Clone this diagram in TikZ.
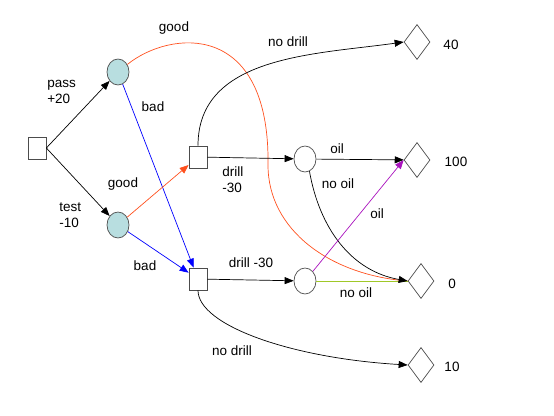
\documentclass[tikz,border=0pt]{standalone}
\usepackage{fontspec}
\setmainfont{Liberation Sans}
\usetikzlibrary{shapes.geometric,arrows.meta}
\definecolor{chancefill}{RGB}{184,222,224}
\definecolor{goodcol}{RGB}{255,80,30}
\definecolor{oilcol}{RGB}{170,20,190}
\definecolor{nooilcol}{RGB}{160,200,40}
\tikzstyle{decision}=[rectangle, draw=black!70, fill=white, minimum width=18pt, minimum height=22pt, inner sep=0pt]
\tikzstyle{chance}=[ellipse, draw=black!70, fill=white, minimum width=22pt, minimum height=26pt, inner sep=0pt]
\tikzstyle{payoff}=[diamond, draw=black!70, minimum width=26pt, minimum height=35pt, inner sep=0pt]
\tikzstyle{lbl}=[inner sep=0pt, align=left, font=\fontsize{13.5}{16}\selectfont]
\tikzset{arr/.style={-{Triangle[length=9pt,width=7pt]}}}

\begin{document}
\begin{tikzpicture}[x=1pt,y=1pt,line width=0.7pt]
    \useasboundingbox (0,0) rectangle (554,-415);
    \node[decision] (s) at (37,-148) {};
    \node[chance, fill=chancefill] (c1) at (118,-72) {};
    \node[chance, fill=chancefill] (c2) at (118,-225) {};
    \node[decision] (d1) at (198,-157) {};
    \node[decision] (d2) at (198,-279) {};
    \node[chance] (c3) at (305,-159) {};
    \node[chance] (c4) at (305,-281) {};
    \node[payoff] (t40) at (417,-42) {};
    \node[payoff] (t100) at (417,-160) {};
    \node[payoff] (t0) at (421,-281) {};
    \node[payoff] (t10) at (421,-365) {};

    \draw[arr] (s.east) -- (c1);
    \draw[arr] (s.east) -- (c2);
    \draw[arr, blue] (c1) -- (d2);
    \draw[arr, goodcol] (c2) -- (d1);
    \draw[arr, blue] (c2) -- (d2);
    \draw[goodcol] (c1) .. controls (170,-30) and (270,-20) .. (268,-165)
        .. controls (268,-230) and (330,-275) .. (t0.west);
    \draw[arr] (d1.north) to[out=90,in=188] (t40.west);
    \draw[arr] (d1) -- (c3);
    \draw[arr] (c3) -- (t100);
    \draw[nooilcol] (c4) -- (t0.west);
    \draw[arr] (c3.-70) to[out=-80,in=170] (t0.west);
    \draw[arr] (d2) -- (c4);
    \draw[arr, oilcol] (c4) -- (t100.west);
    \draw[arr] (d2.south) .. controls (198,-325) and (290,-358) .. (t10.west);

    \node[lbl, anchor=west] (lpass) at (47,-92) {pass\\+20};
    \node[lbl, anchor=west] (ltest) at (59,-215.5) {test\\-10};
    \node[lbl] (lgood1) at (174,-28) {good};
    \node[lbl] (lbad1) at (153,-107) {bad};
    \node[lbl] (lgood2) at (123,-184) {good};
    \node[lbl] (lbad2) at (145,-266) {bad};
    \node[lbl, anchor=west] (ldrill1) at (222,-180) {drill\\-30};
    \node[lbl] (lnodrill1) at (288,-42) {no drill};
    \node[lbl] (loil1) at (337,-149) {oil};
    \node[lbl] (lnooil1) at (338,-184) {no oil};
    \node[lbl] (ldrill2) at (251,-263) {drill -30};
    \node[lbl] (loil2) at (377,-214) {oil};
    \node[lbl] (lnooil2) at (356,-293) {no oil};
    \node[lbl] (lnodrill2) at (232,-351) {no drill};
    \node[lbl] (v40) at (451,-45) {40};
    \node[lbl] (v100) at (456,-162) {100};
    \node[lbl] (v0) at (452,-284) {0};
    \node[lbl] (v10) at (452,-367) {10};
\end{tikzpicture}
\end{document}
